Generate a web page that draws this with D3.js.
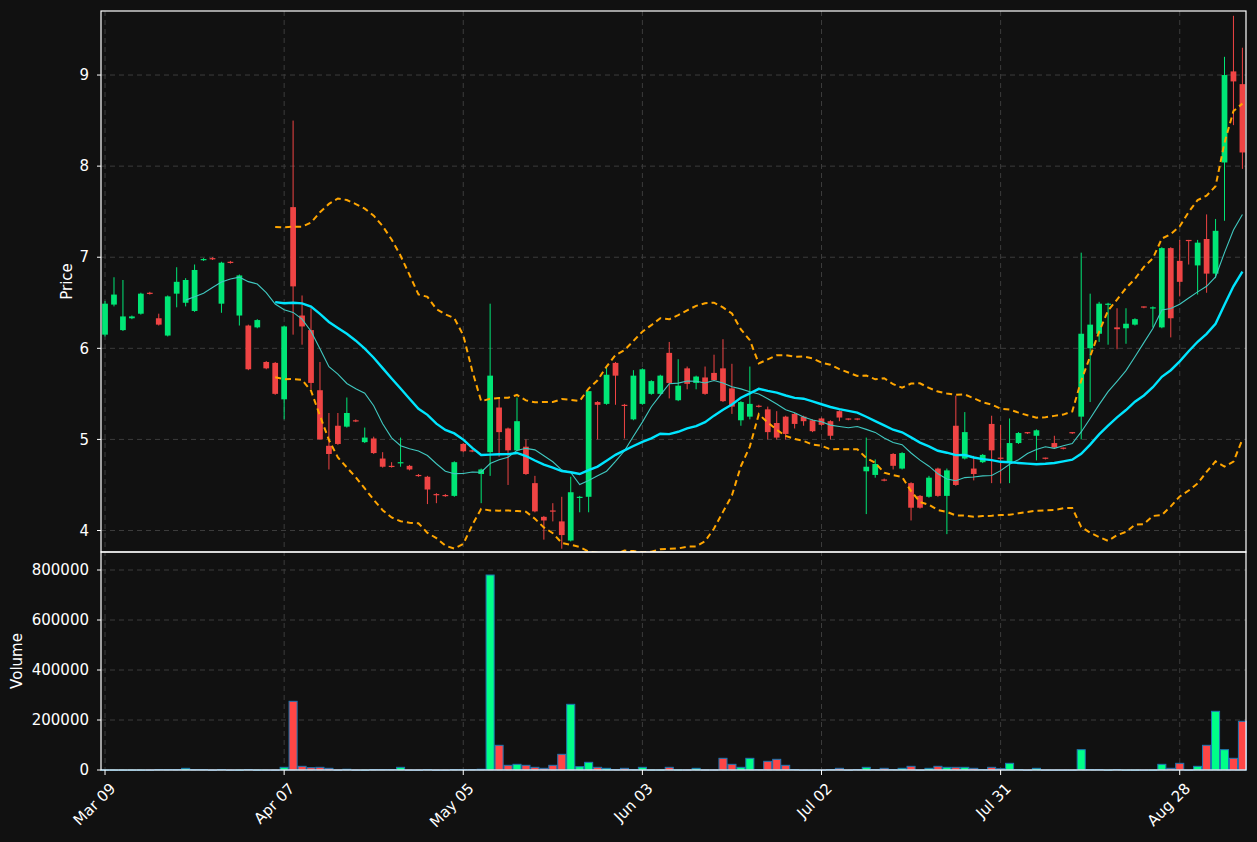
<!DOCTYPE html>
<html><head><meta charset="utf-8">
<script src="https://cdn.jsdelivr.net/npm/d3@7"></script>
<style>html,body{margin:0;padding:0;background:#111111;}svg{display:block;font-family:"DejaVu Sans",sans-serif;}</style>
</head><body>
<svg id="c" width="1257" height="842"></svg>
<script>
const open  = [6.15,6.48,6.20,6.33,6.38,6.61,6.33,6.14,6.60,6.50,6.41,6.97,6.99,6.49,6.95,6.36,6.25,6.23,5.85,5.84,5.44,7.55,6.36,6.20,5.54,4.93,5.15,5.14,5.21,4.97,5.01,4.79,4.71,4.74,4.71,4.61,4.59,4.40,4.39,4.38,4.95,4.88,4.62,4.86,5.35,5.12,4.88,4.92,4.52,4.15,4.22,4.10,3.89,4.36,4.37,5.41,5.39,5.84,5.38,5.22,5.39,5.50,5.50,5.95,5.43,5.78,5.62,5.68,5.73,5.78,5.56,5.21,5.25,5.37,5.33,5.18,5.25,5.28,5.25,5.21,5.23,5.20,5.31,5.23,5.23,4.65,4.61,4.56,4.84,4.68,4.52,4.38,4.37,4.68,4.38,5.15,4.79,4.68,4.75,5.17,4.80,4.75,4.96,5.08,5.04,4.80,4.96,4.91,5.08,5.25,6.00,6.16,6.48,6.23,6.22,6.26,6.46,6.44,6.23,7.10,6.96,7.19,6.91,7.20,6.82,8.04,9.04,8.90];
const high  = [6.52,6.78,6.75,6.36,6.61,6.62,6.38,6.58,6.89,6.77,6.92,6.99,7.00,6.95,6.96,6.81,6.26,6.32,5.86,5.85,6.25,8.50,6.58,6.44,5.85,5.29,5.29,5.46,5.22,5.13,5.03,4.86,4.75,5.02,4.72,4.62,4.60,4.41,4.40,4.76,4.96,4.89,4.68,6.49,5.46,5.13,5.46,5.00,4.60,4.16,4.30,4.37,4.59,4.38,5.53,5.42,5.80,5.85,5.39,5.76,5.78,5.65,5.71,6.07,5.88,5.80,5.70,5.80,5.93,6.10,5.83,5.42,5.80,5.38,5.36,5.31,5.26,5.29,5.26,5.22,5.24,5.21,5.32,5.23,5.23,5.02,4.78,4.57,4.85,4.86,4.53,4.39,4.60,4.69,4.68,5.48,5.30,4.82,4.84,5.26,5.16,5.23,5.08,5.08,5.11,4.80,5.04,4.91,5.08,7.05,6.60,6.51,6.50,6.44,6.44,6.33,6.46,6.46,7.11,7.11,7.19,7.19,7.19,7.47,7.42,9.20,9.65,9.30];
const low   = [6.13,6.46,6.19,6.32,6.37,6.59,6.25,6.13,6.45,6.46,6.40,6.96,6.97,6.39,6.93,6.25,5.76,6.22,5.77,5.49,5.22,6.15,6.04,5.55,5.00,4.67,4.94,5.13,5.19,4.96,4.84,4.69,4.69,4.70,4.66,4.59,4.29,4.30,4.37,4.37,4.86,4.86,4.30,4.60,4.81,4.50,4.87,4.61,4.20,3.90,4.10,3.80,3.88,4.20,4.20,5.00,5.38,5.38,5.01,5.21,5.38,5.49,5.49,5.45,5.42,5.55,5.55,5.49,5.64,5.41,5.28,5.15,5.22,5.35,5.00,5.00,5.00,5.12,5.15,5.08,5.15,5.00,5.20,5.21,5.21,4.18,4.58,4.54,4.67,4.67,4.11,4.24,4.36,4.37,3.96,4.49,4.78,4.55,4.74,4.52,4.52,4.52,4.95,5.06,4.77,4.78,4.90,4.89,5.06,5.00,5.41,6.07,6.04,5.99,6.05,6.25,6.44,6.23,6.22,6.12,6.57,6.92,6.59,6.61,6.77,7.40,8.45,7.97];
const close = [6.49,6.59,6.35,6.35,6.60,6.60,6.26,6.57,6.73,6.75,6.86,6.98,6.98,6.94,6.94,6.80,5.77,6.31,5.78,5.50,6.24,6.68,6.24,5.62,5.00,4.84,4.95,5.29,5.20,5.02,4.85,4.70,4.70,4.75,4.67,4.60,4.45,4.39,4.38,4.75,4.87,4.87,4.67,5.70,5.08,4.88,5.20,4.62,4.21,4.11,4.21,3.95,4.42,4.37,5.53,5.38,5.71,5.70,5.37,5.70,5.77,5.64,5.70,5.62,5.59,5.61,5.69,5.50,5.65,5.42,5.36,5.41,5.39,5.36,5.08,5.02,5.06,5.17,5.20,5.09,5.16,5.04,5.24,5.22,5.22,4.70,4.73,4.55,4.71,4.85,4.25,4.25,4.58,4.38,4.66,4.50,5.08,4.62,4.83,4.88,4.79,4.96,5.07,5.07,5.10,4.79,4.91,4.90,5.07,6.16,6.26,6.49,6.49,6.21,6.27,6.32,6.45,6.45,7.10,6.33,6.73,7.18,7.16,6.82,7.29,9.00,8.93,8.15];
const volume = [500,500,500,500,500,500,2000,2000,2000,6700,2000,2000,500,2000,500,500,2000,500,500,500,10700,274700,14700,9300,10700,6700,500,3000,500,500,2000,2000,2000,10700,500,500,2000,500,500,2000,2000,2000,3000,780000,98700,18700,22700,18700,10700,6700,18700,62700,262700,13300,30700,10700,6700,2000,6700,2000,10700,1000,1000,10700,1000,1000,6700,1000,1000,46700,22700,10700,46700,2000,34700,42700,18700,2000,500,500,500,2000,6700,500,2000,10700,2000,6700,2000,6700,14700,500,6700,14700,10700,10700,10700,6700,2000,10700,5000,26700,2000,500,6700,500,500,500,500,81300,2000,2000,500,2000,500,500,500,500,22700,6700,26700,500,14700,98700,234700,81300,46700,194700];
const tickIdx = [0,20,40,60,80,100,120];
const tickLabels = ["Mar 09","Apr 07","May 05","Jun 03","Jul 02","Jul 31","Aug 28"];
const priceTicks = [4,5,6,7,8,9];
const volTicks = [0,200000,400000,600000,800000];

const n = close.length;
const svg = d3.select("#c");
const L = 101, R = 1246, PT = 11, PB = 552, VB = 770;
const x = d3.scaleLinear().domain([-0.45, n - 0.6]).range([L, R]);
const y = d3.scaleLinear().domain([3.764, 9.703]).range([PB, PT]);
const yv = d3.scaleLinear().domain([0, 872000]).range([VB, PB]);
const up = "#00e676", dn = "#ef4444", vup = "#00ff88", vdn = "#ff4646";
const gridC = "#3c3c3c";

svg.append("rect").attr("width",1257).attr("height",842).attr("fill","#111111");
const cw = x(1) - x(0);

const g = svg.append("g");
tickIdx.forEach(i => {
  g.append("line").attr("x1",x(i)).attr("x2",x(i)).attr("y1",PT).attr("y2",VB).attr("stroke",gridC).attr("stroke-dasharray","5,4");
});
priceTicks.forEach(p => g.append("line").attr("x1",L).attr("x2",R).attr("y1",y(p)).attr("y2",y(p)).attr("stroke",gridC).attr("stroke-dasharray","5,4"));
volTicks.forEach(v => g.append("line").attr("x1",L).attr("x2",R).attr("y1",yv(v)).attr("y2",yv(v)).attr("stroke",gridC).attr("stroke-dasharray","5,4"));

function ma(k){ return close.map((c,i)=> i<k-1?null:d3.mean(close.slice(i-k+1,i+1))); }
const ma10 = ma(10), ma20 = ma(20);
const sd20 = close.map((c,i)=> i<19?null:Math.sqrt(d3.mean(close.slice(i-19,i+1),v=>(v-ma20[i])**2)));
const line = arr => d3.line().defined(d=>d!=null).x((d,i)=>x(i)).y(d=>y(d))(arr);

svg.append("clipPath").attr("id","pc").append("rect").attr("x",L).attr("y",PT).attr("width",R-L).attr("height",PB-PT);
const pg = svg.append("g").attr("clip-path","url(#pc)");

const cg = pg.append("g");
for (let i=0;i<n;i++){
  const col = close[i]>=open[i]?up:dn;
  cg.append("line").attr("x1",x(i)).attr("x2",x(i)).attr("y1",y(high[i])).attr("y2",y(low[i])).attr("stroke",col).attr("stroke-width",1);
  const t = y(Math.max(open[i],close[i])), b = y(Math.min(open[i],close[i]));
  cg.append("rect").attr("x",x(i)-cw*0.32).attr("width",cw*0.64).attr("y",t).attr("height",Math.max(1.2,b-t)).attr("fill",col);
}
pg.append("path").attr("d",line(ma10)).attr("fill","none").attr("stroke","#40c8c0").attr("stroke-width",1.1);
pg.append("path").attr("d",line(ma20)).attr("fill","none").attr("stroke","#00e5ff").attr("stroke-width",2.4);
pg.append("path").attr("d",line(ma20.map((m,i)=>m==null?null:m+2*sd20[i]))).attr("fill","none").attr("stroke","#ffa500").attr("stroke-width",2).attr("stroke-dasharray","6,4");
pg.append("path").attr("d",line(ma20.map((m,i)=>m==null?null:m-2*sd20[i]))).attr("fill","none").attr("stroke","#ffa500").attr("stroke-width",2).attr("stroke-dasharray","6,4");

const vg = svg.append("g");
for (let i=0;i<n;i++){
  const col = close[i]>=open[i]?vup:vdn;
  vg.append("rect").attr("x",x(i)-cw*0.45).attr("width",cw*0.9).attr("y",yv(volume[i])).attr("height",Math.max(0.5,VB-yv(volume[i])))
    .attr("fill",col).attr("stroke","#1f77b4").attr("stroke-width",1);
}

svg.append("rect").attr("x",L).attr("y",PT).attr("width",R-L).attr("height",PB-PT).attr("fill","none").attr("stroke","#fff").attr("stroke-width",1.2);
svg.append("rect").attr("x",L).attr("y",PB).attr("width",R-L).attr("height",VB-PB).attr("fill","none").attr("stroke","#fff").attr("stroke-width",1.2);

const ax = svg.append("g").attr("fill","#fff").attr("font-size",15);
priceTicks.forEach(p => {
  ax.append("line").attr("x1",L-4).attr("x2",L).attr("y1",y(p)).attr("y2",y(p)).attr("stroke","#fff");
  ax.append("text").attr("x",L-12).attr("y",y(p)).attr("dy","0.35em").attr("text-anchor","end").text(p);
});
volTicks.forEach(v => {
  ax.append("line").attr("x1",L-4).attr("x2",L).attr("y1",yv(v)).attr("y2",yv(v)).attr("stroke","#fff");
  ax.append("text").attr("x",L-12).attr("y",yv(v)).attr("dy","0.35em").attr("text-anchor","end").text(v);
});
tickIdx.forEach((i,k) => {
  ax.append("line").attr("x1",x(i)).attr("x2",x(i)).attr("y1",VB).attr("y2",VB+5).attr("stroke","#fff");
  ax.append("text").attr("transform",`translate(${x(i)+4},${VB+12}) rotate(-45)`).attr("text-anchor","end").attr("dy","0.7em").text(tickLabels[k]);
});
ax.append("text").attr("transform",`translate(72,${(PT+PB)/2}) rotate(-90)`).attr("text-anchor","middle").text("Price");
ax.append("text").attr("transform",`translate(22,${(PB+VB)/2}) rotate(-90)`).attr("text-anchor","middle").text("Volume");
</script>
</body></html>
